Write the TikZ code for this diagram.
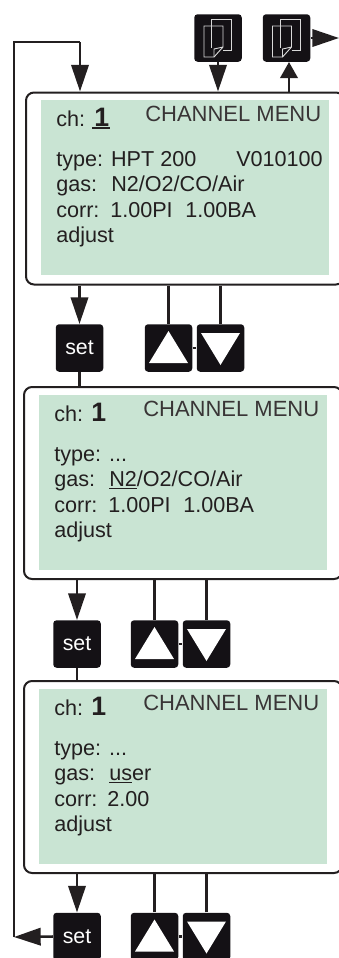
\documentclass[tikz,border=0pt]{standalone}
\usepackage{fontspec}
\setmainfont{Liberation Sans}
\usetikzlibrary{arrows.meta, positioning, calc}

\definecolor{lcdgreen}{HTML}{C9E4D3}
\definecolor{keyblack}{HTML}{141115}
\definecolor{lineblack}{HTML}{231F20}

\begin{document}
\begin{tikzpicture}[
        x=0.75pt, y=-0.75pt,
        panel/.style={rectangle, draw=lineblack, line width=1.5pt, rounded corners=6pt, minimum width=318*0.75pt, minimum height=192*0.75pt, anchor=north west, inner sep=0pt},
        screen/.style={rectangle, fill=lcdgreen, minimum width=288*0.75pt, minimum height=175*0.75pt, anchor=north west, inner sep=0pt},
        key/.style={rectangle, fill=keyblack, rounded corners=2.5pt, minimum size=47.5*0.75pt, inner sep=0pt, text=white, font=\fontsize{16}{18}\selectfont},
        txt/.style={anchor=base west, inner sep=0pt, text=lineblack, font=\fontsize{16.2}{18}\selectfont},
        head/.style={anchor=base west, inner sep=0pt, text=lineblack!90, font=\fontsize{16.5}{18}\selectfont},
        num/.style={anchor=base west, inner sep=0pt, text=lineblack, font=\fontsize{20}{22}\selectfont\bfseries},
        link/.style={lineblack, line width=1.9pt},
        arrow/.style={link, -{Triangle[length=20pt, width=13pt]}},
        shortarrow/.style={link, -{Triangle[length=12pt, width=13pt]}},
        icon/.style={white!85!black, line width=0.7pt}
    ]
    \useasboundingbox (0,0) rectangle (339,958);
    \clip (0,0) rectangle (339,958);

    % Panels
    \node[panel] (panelA) at (25,91.5) {};
    \node[panel] (panelB) at (23,386) {};
    \node[panel] (panelC) at (23,680) {};

    % Screens
    \node[screen] (screenA) at (41,100) {};
    \node[screen] (screenB) at (39,395) {};
    \node[screen] (screenC) at (39,689) {};

    % Keys
    \node[key] (pageA) at (218,38) {};
    \node[key] (pageB) at (286.5,38) {};
    \node[key] (setA) at (79.5,348) {set};
    \node[key] (upA) at (168.5,348) {};
    \node[key] (downA) at (220.5,348) {};
    \node[key] (setB) at (77,644) {set};
    \node[key] (upB) at (154.5,644) {};
    \node[key] (downB) at (206.5,644) {};
    \node[key] (setC) at (77,936.5) {set};
    \node[key] (upC) at (154.5,936.5) {};
    \node[key] (downC) at (206.5,936.5) {};

    % Triangles
    \foreach \k in {upA, upB, upC} {
        \fill[white] ($(\k)+(-19.5,15)$) -- ($(\k)+(19.5,15)$) -- ($(\k)+(0,-17)$) -- cycle;
    }
    \foreach \k in {downA, downB, downC} {
        \fill[white] ($(\k)+(-19.5,-15)$) -- ($(\k)+(19.5,-15)$) -- ($(\k)+(0,17)$) -- cycle;
    }

    % Page icons
    \foreach \k in {pageA, pageB} {
        \draw[icon] ($(\k)+(5,12)$) -- ($(\k)+(13.5,12)$) -- ($(\k)+(13.5,-19)$) -- ($(\k)+(-6.5,-19)$) -- ($(\k)+(-6.5,10)$);
        \draw[icon] ($(\k)+(-14,-12)$) -- ($(\k)+(5,-12)$) -- ($(\k)+(5,9)$) -- ($(\k)+(-4,19)$) -- ($(\k)+(-14,19)$) -- cycle;
        \draw[icon] ($(\k)+(5,9)$) -- ($(\k)+(-4,11)$) -- ($(\k)+(-4,19)$);
    }

    % Screen texts
    \node[txt] (chA) at ($(screenA.north west)+(15,26)$) {ch:};
    \node[num] (numA) at ($(screenA.north west)+(51,26)$) {\rlap{\rule[-2.4pt]{13.5pt}{1.5pt}}\kern1.5pt 1};
    \node[head] at ($(screenA.north west)+(104,21.5)$) {CHANNEL MENU};
    \node[txt] at ($(screenA.north west)+(15,66)$) {type: HPT 200};
    \node[txt] at ($(screenA.north west)+(195,66)$) {V010100};
    \node[txt] at ($(screenA.north west)+(15,91)$) {gas:};
    \node[txt] at ($(screenA.north west)+(70,91)$) {N2/O2/CO/Air};
    \node[txt] at ($(screenA.north west)+(15,117)$) {corr:};
    \node[txt] at ($(screenA.north west)+(69,117)$) {1.00PI};
    \node[txt] at ($(screenA.north west)+(144,117)$) {1.00BA};
    \node[txt] at ($(screenA.north west)+(15,142)$) {adjust};

    \node[txt] (chB) at ($(screenB.north west)+(15,26)$) {ch:};
    \node[num] (numB) at ($(screenB.north west)+(52,26)$) {1};
    \node[head] at ($(screenB.north west)+(104,21.5)$) {CHANNEL MENU};
    \node[txt] at ($(screenB.north west)+(15,66)$) {type: ...};
    \node[txt] at ($(screenB.north west)+(15,91)$) {gas:};
    \node[txt] at ($(screenB.north west)+(70,91)$) {\underline{N2}/O2/CO/Air};
    \node[txt] at ($(screenB.north west)+(15,117)$) {corr:};
    \node[txt] at ($(screenB.north west)+(69,117)$) {1.00PI};
    \node[txt] at ($(screenB.north west)+(144,117)$) {1.00BA};
    \node[txt] at ($(screenB.north west)+(15,142)$) {adjust};

    \node[txt] (chC) at ($(screenC.north west)+(15,26)$) {ch:};
    \node[num] (numC) at ($(screenC.north west)+(52,26)$) {1};
    \node[head] at ($(screenC.north west)+(104,21.5)$) {CHANNEL MENU};
    \node[txt] at ($(screenC.north west)+(15,66)$) {type: ...};
    \node[txt] at ($(screenC.north west)+(15,91)$) {gas:};
    \node[txt] at ($(screenC.north west)+(70,91)$) {\underline{us}er};
    \node[txt] at ($(screenC.north west)+(15,117)$) {corr:};
    \node[txt] at ($(screenC.north west)+(68,117)$) {2.00};
    \node[txt] at ($(screenC.north west)+(15,142)$) {adjust};

    % Connectors
    \coordinate (loopT) at (14,42);
    \coordinate (loopB) at (14,937);
    \coordinate (exitB) at (339,38);
    \coordinate (entryA) at ($(panelA.north west)+(55,0)$);
    \coordinate (pageOut) at ($(pageB.south)+(2.5,0)$);

    \draw[arrow] (setC.west) -- (loopB);
    \draw[link] (loopB) -- (loopT) -- (loopT -| entryA);
    \draw[arrow] (loopT -| entryA) -- (entryA);

    \draw[arrow] (pageA.south) -- (pageA.south |- panelA.north);
    \draw[shortarrow] (pageOut |- panelA.north) -- (pageOut);
    \draw[arrow] (pageB.east) -- (exitB);

    \draw[arrow] (setA.north |- panelA.south) -- (setA.north);
    \draw[link] (setA.south) -- (setA.south |- panelB.north);
    \draw[link] (upA.north) -- (upA.north |- panelA.south);
    \draw[link] (downA.north) -- (downA.north |- panelA.south);
    \draw[link] (upA) -- (downA);

    \draw[arrow] (setB.north |- panelB.south) -- (setB.north);
    \draw[link] (setB.south) -- (setB.south |- panelC.north);
    \draw[link] (upB.north) -- (upB.north |- panelB.south);
    \draw[link] (downB.north) -- (downB.north |- panelB.south);
    \draw[link] (upB) -- (downB);

    \draw[arrow] (setC.north |- panelC.south) -- (setC.north);
    \draw[link] (upC.north) -- (upC.north |- panelC.south);
    \draw[link] (downC.north) -- (downC.north |- panelC.south);
    \draw[link] (upC) -- (downC);

    \end{tikzpicture}
\end{document}
